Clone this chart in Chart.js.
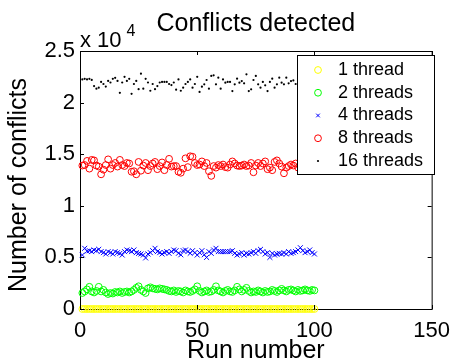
<!DOCTYPE html>
<html>
<head>
<meta charset="utf-8">
<script src="https://cdn.jsdelivr.net/npm/chart.js@4.4.1/dist/chart.umd.min.js"></script>
<style>
  html, body { margin: 0; padding: 0; background: #fff; }
</style>
</head>
<body>
<canvas id="chart" width="459" height="364"></canvas>
<script>
// run numbers (x)
const runs = [1,2,3,4,5,6,7,8,9,10,11,12,13,14,15,16,17,18,19,20,
  21,22,23,24,25,26,27,28,29,30,31,32,33,34,35,36,37,38,39,40,
  41,42,43,44,45,46,47,48,49,50,51,52,53,54,55,56,57,58,59,60,
  61,62,63,64,65,66,67,68,69,70,71,72,73,74,75,76,77,78,79,80,
  81,82,83,84,85,86,87,88,89,90,91,92,93,94,95,96,97,98,99,100];

const seriesNames = ["1 thread", "2 threads", "4 threads", "8 threads", "16 threads"];

const thread1 = [0,0,0,0,0,0,0,0,0,0,0,0,0,0,0,0,0,0,0,0,
  0,0,0,0,0,0,0,0,0,0,0,0,0,0,0,0,0,0,0,0,
  0,0,0,0,0,0,0,0,0,0,0,0,0,0,0,0,0,0,0,0,
  0,0,0,0,0,0,0,0,0,0,0,0,0,0,0,0,0,0,0,0,
  0,0,0,0,0,0,0,0,0,0,0,0,0,0,0,0,0,0,0,0];

const thread2 = [1550,1700,1900,2150,1700,1600,1750,2150,1700,1850,
  1600,1450,1550,1500,1650,1600,1700,1550,1650,1700,
  1600,1700,1850,2050,2200,1850,1700,1550,2000,2100,
  2000,1950,1900,2000,1950,1900,1850,1750,1700,1800,
  1650,1750,1700,1600,1800,1700,1650,1750,1900,2200,
  1750,1600,1700,1800,1650,1700,1850,2200,1800,1700,
  1600,1750,1850,1700,1650,1800,2150,1900,1700,1850,
  2050,1750,1600,1700,1650,1800,1700,1600,1750,1650,
  1700,1850,1750,1650,1800,1950,1800,1700,1850,1900,
  1800,1700,1850,1750,1800,1900,1800,1750,1850,1800];

const thread4 = [5230,5880,5600,5650,5560,5720,5650,5780,5560,5460,
  5330,5560,5460,5330,5560,5460,5390,5230,5560,5720,
  5650,5560,5720,5460,5390,5330,5230,4950,5330,5460,
  5650,5880,5560,5460,5330,5460,5560,5390,5560,5720,
  5650,5400,5250,5650,5720,5560,5400,5650,5460,5230,
  5460,5650,5250,5000,5560,5390,5720,5880,5560,5560,
  5560,5560,5560,5560,5650,5390,5230,5330,5460,5230,
  5390,5330,5460,5560,5390,5650,5780,5560,5330,5460,
  5000,5390,5230,5330,5390,5330,5460,5330,5560,5390,
  5460,5560,5720,5940,5650,5460,5560,5720,5460,5330];

const thread8 = [13900,13950,14350,13600,14450,14400,13900,13800,13050,13500,
  13950,14500,13600,13950,14150,13800,14450,13950,13850,14150,
  14100,13300,13350,13050,14250,13400,13900,14150,13450,13850,
  14100,14250,13550,13850,14200,13450,13950,14550,13800,13850,
  13850,13300,13200,13600,14600,13750,14800,14750,14150,13950,
  14000,14300,13850,14150,13350,12900,13850,13700,13950,13850,
  14000,13750,13700,14000,14300,14100,13900,13850,13900,14000,
  13850,13900,14150,13250,13900,14150,13850,14100,14300,13550,
  13700,13450,14250,14400,14100,13800,13150,13700,13850,14000,
  13900,14100,13700,14000,13850,14200,13950,13750,14050,13900];

const thread16 = [22250,22300,22250,22300,22200,21600,21350,21450,22000,21800,
  21550,22100,21950,22300,22400,22100,20950,21950,22500,22100,
  22300,20850,21800,22100,21300,22800,21350,22300,21950,21150,
  21800,21300,21600,21950,22000,22000,22000,21800,21700,21950,
  21250,22250,21150,21450,21800,22000,22250,21450,21800,22500,
  21030,21540,21770,22190,21350,22580,22640,21770,22420,21350,
  22250,21930,22000,22000,21120,21770,22320,21930,22090,21870,
  22740,21120,21290,22190,22580,21770,21450,22000,21670,21120,
  22000,22320,21450,21770,22420,21930,21770,22420,21870,22090,
  22150,21800,22300,21600,22000,22400,21700,22100,21900,22200];

const xTickLabels = ["0", "50", "100", "150"];
const yTickLabels = ["0", "0.5", "1", "1.5", "2", "2.5"];

const FONT = "'Liberation Sans', Arial, Helvetica, sans-serif";
const TICK = 4;

Chart.defaults.font.family = FONT;
Chart.defaults.color = "#000";

const toPoints = vals => runs.map((r, i) => ({ x: r, y: vals[i] }));

function series(label, vals, color, style, radius, order) {
  const dot = style === "dot";
  return {
    label: label,
    data: toPoints(vals),
    showLine: false,
    clip: false,
    order: order,
    pointStyle: dot ? "circle" : style,
    pointRadius: radius,
    pointHoverRadius: radius,
    pointBorderWidth: dot ? 0 : 1,
    pointBorderColor: color,
    pointBackgroundColor: dot ? color : "rgba(0,0,0,0)",
    legendRadius: dot ? 1.1 : (style === "crossRot" ? 2.6 : 3.4)
  };
}

// MATLAB style box, inward ticks, exponent, y label and the legend drawn over the data
const matlabAxes = {
  id: "matlabAxes",
  afterDatasetsDraw(chart) {
    const { ctx, chartArea: a, scales: { x, y } } = chart;
    ctx.save();
    ctx.strokeStyle = "#000";
    ctx.lineWidth = 1;
    ctx.beginPath();
    ctx.moveTo(a.left, a.top + 0.5);
    ctx.lineTo(a.right + 1, a.top + 0.5);
    ctx.moveTo(a.right + 0.5, a.top);
    ctx.lineTo(a.right + 0.5, a.bottom + 1);
    x.ticks.forEach(t => {
      const px = Math.round(x.getPixelForValue(t.value)) + 0.5;
      ctx.moveTo(px, a.bottom);
      ctx.lineTo(px, a.bottom - TICK);
      ctx.moveTo(px, a.top);
      ctx.lineTo(px, a.top + TICK);
    });
    y.ticks.forEach(t => {
      const py = Math.round(y.getPixelForValue(t.value)) + 0.5;
      ctx.moveTo(a.left, py);
      ctx.lineTo(a.left + TICK, py);
      ctx.moveTo(a.right, py);
      ctx.lineTo(a.right - TICK, py);
    });
    ctx.stroke();

    // exponent
    ctx.fillStyle = "#000";
    ctx.textAlign = "left";
    ctx.textBaseline = "alphabetic";
    ctx.font = "22px " + FONT;
    const base = "x 10";
    ctx.fillText(base, a.left, 47);
    const w = ctx.measureText(base).width;
    ctx.font = "16px " + FONT;
    ctx.fillText("4", a.left + w + 5, 36);

    // y axis label
    ctx.save();
    ctx.translate(19, 185);
    ctx.rotate(-Math.PI / 2);
    ctx.font = "25px " + FONT;
    ctx.textAlign = "center";
    ctx.textBaseline = "middle";
    ctx.fillText("Number of conflicts", 0, 0);
    ctx.restore();

    // legend
    const lg = { x: 297, y: 55, w: 137, h: 119 };
    ctx.fillStyle = "#fff";
    ctx.fillRect(lg.x, lg.y, lg.w, lg.h);
    ctx.strokeStyle = "#000";
    ctx.strokeRect(lg.x + 0.5, lg.y + 0.5, lg.w, lg.h);
    chart.data.datasets.forEach((ds, i) => {
      const cy = lg.y + 15 + i * 22.75;
      ctx.strokeStyle = ds.pointBorderColor;
      ctx.fillStyle = ds.pointBackgroundColor;
      ctx.lineWidth = 1;
      Chart.helpers.drawPoint(ctx, {
        pointStyle: ds.pointStyle,
        radius: ds.legendRadius,
        borderWidth: ds.pointBorderWidth,
        rotation: 0
      }, lg.x + 21, cy);
      ctx.fillStyle = "#000";
      ctx.font = "18px " + FONT;
      ctx.textAlign = "left";
      ctx.textBaseline = "middle";
      ctx.fillText(ds.label, lg.x + 41, cy);
    });
    ctx.restore();
  }
};

new Chart(document.getElementById("chart"), {
  type: "scatter",
  data: {
    datasets: [
      series(seriesNames[0], thread1, "#ffff00", "circle", 3.4, 4),
      series(seriesNames[1], thread2, "#00ff00", "circle", 3.4, 3),
      series(seriesNames[2], thread4, "#0000ff", "crossRot", 3.5, 2),
      series(seriesNames[3], thread8, "#ff0000", "circle", 3.4, 1),
      series(seriesNames[4], thread16, "#000000", "dot", 1.1, 0)
    ]
  },
  options: {
    responsive: false,
    animation: false,
    events: [],
    layout: { padding: { top: 0, right: 21, left: 0, bottom: 0 } },
    scales: {
      x: {
        type: "linear",
        min: 0,
        max: 150,
        afterFit: s => { s.height = 55; },
        grid: { display: false, drawTicks: false },
        border: { display: true, color: "#000", width: 1 },
        ticks: {
          stepSize: 50,
          padding: 9,
          maxRotation: 0,
          font: { size: 22 },
          callback: (v, i) => xTickLabels[i]
        },
        title: {
          display: true,
          text: "Run number",
          font: { size: 25, lineHeight: 1 },
          padding: { top: 0, bottom: 0 }
        }
      },
      y: {
        min: 0,
        max: 25000,
        afterFit: s => { s.width = 80; },
        grid: { display: false, drawTicks: false },
        border: { display: true, color: "#000", width: 1 },
        ticks: {
          stepSize: 5000,
          padding: 5,
          font: { size: 22 },
          callback: (v, i) => yTickLabels[i]
        }
      }
    },
    plugins: {
      legend: { display: false },
      tooltip: { enabled: false },
      title: {
        display: true,
        text: "Conflicts detected",
        fullSize: false,
        color: "#000",
        font: { size: 25, weight: "normal", lineHeight: 1.2 },
        padding: { top: 9, bottom: 12 }
      }
    }
  },
  plugins: [matlabAxes]
});
</script>
</body>
</html>
